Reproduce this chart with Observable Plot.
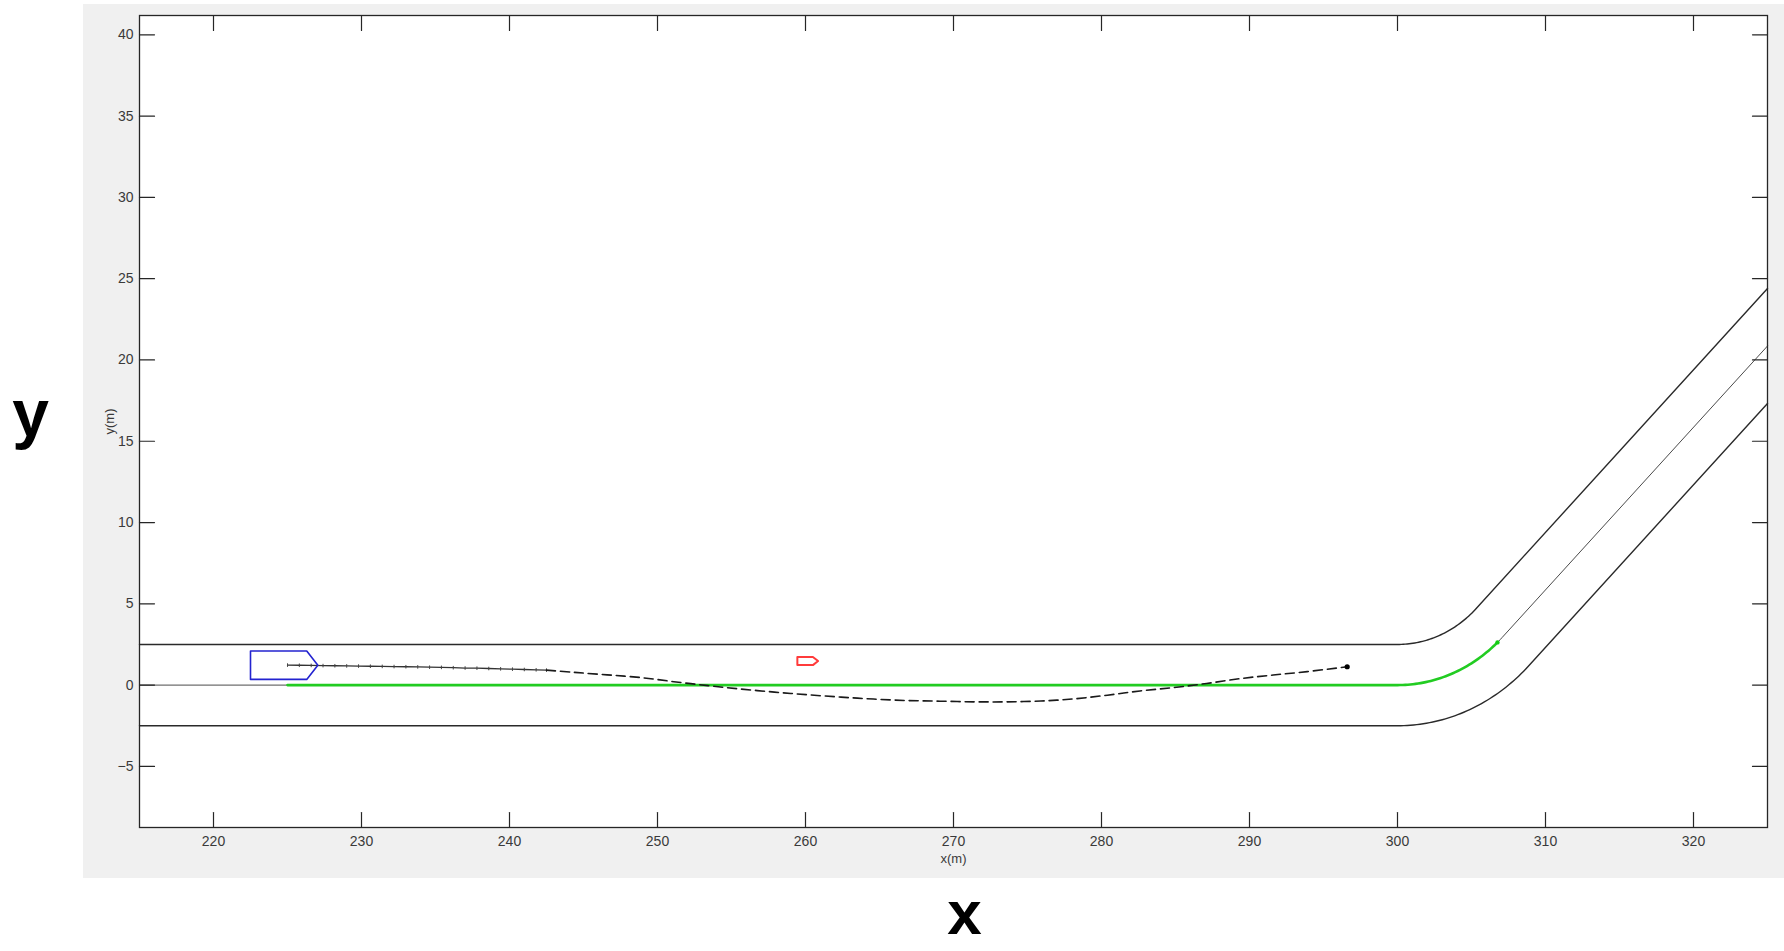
<!DOCTYPE html>
<html>
<head>
<meta charset="utf-8">
<script src="https://cdn.jsdelivr.net/npm/d3@7"></script>
<script src="https://cdn.jsdelivr.net/npm/@observablehq/plot@0.6"></script>
<style>
  html, body { margin: 0; padding: 0; background: #ffffff; }
  #wrap { position: relative; width: 1784px; height: 951px; overflow: hidden; }
  #panel { position: absolute; left: 83px; top: 4px; width: 1701px; height: 874px; background: #f0f0f0; }
  #chart { position: absolute; left: 0; top: 0; }
</style>
</head>
<body>
<div id="wrap">
  <div id="panel"></div>
  <div id="chart"></div>
</div>
<script>
// Axis ticks
const xTicks = [220, 230, 240, 250, 260, 270, 280, 290, 300, 310, 320];
const yTicks = [-5, 0, 5, 10, 15, 20, 25, 30, 35, 40];

// Road geometry: straight lane, then a circular left turn onto a 45° diagonal
const roadStartX = 215;
const curveStartX = 300;
const curveRadius = 10;
const turnAngle = 45;
const roadEndX = 325;
const laneOffsets = [2.5, 0, -2.5];          // left edge, centre line, right edge
const laneRoles = ["edge", "centre", "edge"];

// Reference path (green) along the centre line
const refStartX = 225;
const refEndAngle = 42.5;

// Driven path so far (solid, with sample ticks)
const pastX = [225.0, 225.8, 226.6, 227.4, 228.2, 229.0, 229.8, 230.6, 231.4, 232.2, 233.0, 233.8,
               234.6, 235.4, 236.2, 237.0, 237.8, 238.6, 239.4, 240.2, 241.0, 241.8, 242.5];
const pastY = [1.23, 1.22, 1.21, 1.20, 1.19, 1.18, 1.17, 1.16, 1.15, 1.14, 1.13, 1.12,
               1.10, 1.09, 1.07, 1.05, 1.04, 1.02, 1.00, 0.98, 0.96, 0.94, 0.92];

// Predicted path (dashed)
const predX = [242.5, 244.4, 246.6, 248.9, 251.1, 253.4, 255.6, 257.9, 260.1, 262.4, 264.6, 266.9,
               269.1, 271.4, 273.6, 275.9, 278.1, 280.4, 282.6, 284.9, 287.1, 289.4, 291.6, 293.9, 296.6];
const predY = [0.92, 0.78, 0.63, 0.46, 0.21, -0.03, -0.24, -0.43, -0.59, -0.74, -0.86, -0.95,
               -0.99, -1.03, -1.03, -0.98, -0.85, -0.62, -0.36, -0.15, 0.10, 0.40, 0.62, 0.83, 1.13];

// Ego vehicle outline (blue) and the small target vehicle (red)
const egoX = [222.5, 226.3, 227.05, 226.3, 222.5, 222.5];
const egoY = [2.10, 2.10, 1.22, 0.35, 0.35, 2.10];
const targetX = [259.45, 260.5, 260.85, 260.5, 259.45, 259.45];
const targetY = [1.73, 1.73, 1.48, 1.23, 1.23, 1.73];

// Build one lane line: straight part, arc of radius (R - offset), then diagonal to the right edge
function laneLine(offset, fromX, endAngle, toEdge) {
  const r = curveRadius - offset;
  const pts = [{x: fromX, y: offset}, {x: curveStartX, y: offset}];
  for (let a = 1; a <= endAngle; a += 1) {
    const t = a * Math.PI / 180;
    pts.push({x: curveStartX + r * Math.sin(t), y: curveRadius - r * Math.cos(t)});
  }
  if (endAngle % 1 !== 0) {
    const t = endAngle * Math.PI / 180;
    pts.push({x: curveStartX + r * Math.sin(t), y: curveRadius - r * Math.cos(t)});
  }
  if (toEdge) {
    const last = pts[pts.length - 1];
    const slope = Math.tan(turnAngle * Math.PI / 180);
    pts.push({x: roadEndX, y: last.y + (roadEndX - last.x) * slope});
  }
  return pts;
}

const lanes = laneOffsets.map((o, i) => ({role: laneRoles[i], pts: laneLine(o, roadStartX, turnAngle, true)}));
const refPath = laneLine(0, refStartX, refEndAngle, false);
const refEnd = refPath[refPath.length - 1];

const past = pastX.map((x, i) => ({x, y: pastY[i]}));
const pred = predX.map((x, i) => ({x, y: predY[i]}));
const ego = egoX.map((x, i) => ({x, y: egoY[i]}));
const target = targetX.map((x, i) => ({x, y: targetY[i]}));

// Short vertical tick used as a sample marker
const sampleTick = {draw(ctx, size) { const h = Math.sqrt(size); ctx.moveTo(0, -h / 2); ctx.lineTo(0, h / 2); }};
// Inward axis tick drawn by a vector
const inwardTick = {draw(ctx, l) { ctx.moveTo(0, 0); ctx.lineTo(0, -l); }};

const axisColor = "#262626";
const tickLen = 15;
const labelFont = "'Liberation Sans', Arial, sans-serif";

const chart = Plot.plot({
  width: 1784,
  height: 951,
  marginLeft: 139,
  marginRight: 17,
  marginTop: 15,
  marginBottom: 124,
  style: {background: "transparent", fontFamily: "'Liberation Sans Narrow', 'Liberation Sans', Arial, sans-serif", fontSize: "14px", color: "#333"},
  x: {domain: [215, 325]},
  y: {domain: [-8.76, 41.19]},
  marks: [
    Plot.frame({fill: "white", stroke: null}),
    ...lanes.map(l => Plot.line(l.pts, {x: "x", y: "y",
      stroke: l.role === "edge" ? "#2a2a2a" : "#4a4a4a",
      strokeWidth: l.role === "edge" ? 1.4 : 1})),
    Plot.line(refPath, {x: "x", y: "y", stroke: "#22cc22", strokeWidth: 2.6}),
    Plot.dot([refEnd], {x: "x", y: "y", r: 2.2, fill: "#11cc11"}),
    Plot.line(past, {x: "x", y: "y", stroke: "#333", strokeWidth: 1.3}),
    Plot.dot(past, {x: "x", y: "y", r: 2, symbol: sampleTick, stroke: "#444", strokeWidth: 1}),
    Plot.line(pred, {x: "x", y: "y", curve: "catmull-rom", stroke: "#1a1a1a", strokeWidth: 1.6, strokeDasharray: "9,5"}),
    Plot.dot([pred[pred.length - 1]], {x: "x", y: "y", r: 2.6, fill: "#000"}),
    Plot.line(ego, {x: "x", y: "y", stroke: "#2323d0", strokeWidth: 1.6}),
    Plot.line(target, {x: "x", y: "y", stroke: "#ff3b3b", strokeWidth: 2, strokeLinejoin: "round"}),
    // inward ticks on all four sides
    Plot.vector(xTicks, {x: d => d, frameAnchor: "bottom", anchor: "start", rotate: 0, length: tickLen, shape: inwardTick, stroke: axisColor, strokeWidth: 1.2}),
    Plot.vector(xTicks, {x: d => d, frameAnchor: "top", anchor: "start", rotate: 180, length: tickLen, shape: inwardTick, stroke: axisColor, strokeWidth: 1.2}),
    Plot.vector(yTicks, {y: d => d, frameAnchor: "left", anchor: "start", rotate: 90, length: tickLen, shape: inwardTick, stroke: axisColor, strokeWidth: 1.2}),
    Plot.vector(yTicks, {y: d => d, frameAnchor: "right", anchor: "start", rotate: -90, length: tickLen, shape: inwardTick, stroke: axisColor, strokeWidth: 1.2}),
    Plot.frame({stroke: axisColor, strokeWidth: 1.3}),
    Plot.axisX({ticks: xTicks, anchor: "bottom", tickSize: 0, tickPadding: 9, label: null, fill: "#3a3a3a"}),
    Plot.axisY({ticks: yTicks, anchor: "left", tickSize: 0, tickPadding: 6, label: null, fill: "#3a3a3a"}),
    Plot.text(["x(m)"], {frameAnchor: "bottom", textAnchor: "middle", lineAnchor: "middle", dy: 31, fill: "#3a3a3a", fontSize: 13, fontFamily: labelFont}),
    Plot.text(["y(m)"], {frameAnchor: "left", textAnchor: "middle", lineAnchor: "middle", dx: -30, rotate: -90, fill: "#3a3a3a", fontSize: 13, fontFamily: labelFont}),
    Plot.text(["y"], {frameAnchor: "left", textAnchor: "middle", lineAnchor: "middle", dx: -109, dy: -7, fill: "#000", fontSize: 66, fontWeight: "bold", fontFamily: labelFont}),
    Plot.text(["x"], {frameAnchor: "bottom", textAnchor: "middle", lineAnchor: "middle", dx: 11, dy: 87, fill: "#000", fontSize: 62, fontWeight: "bold", fontFamily: labelFont})
  ]
});

document.getElementById("chart").appendChild(chart);
</script>
</body>
</html>
